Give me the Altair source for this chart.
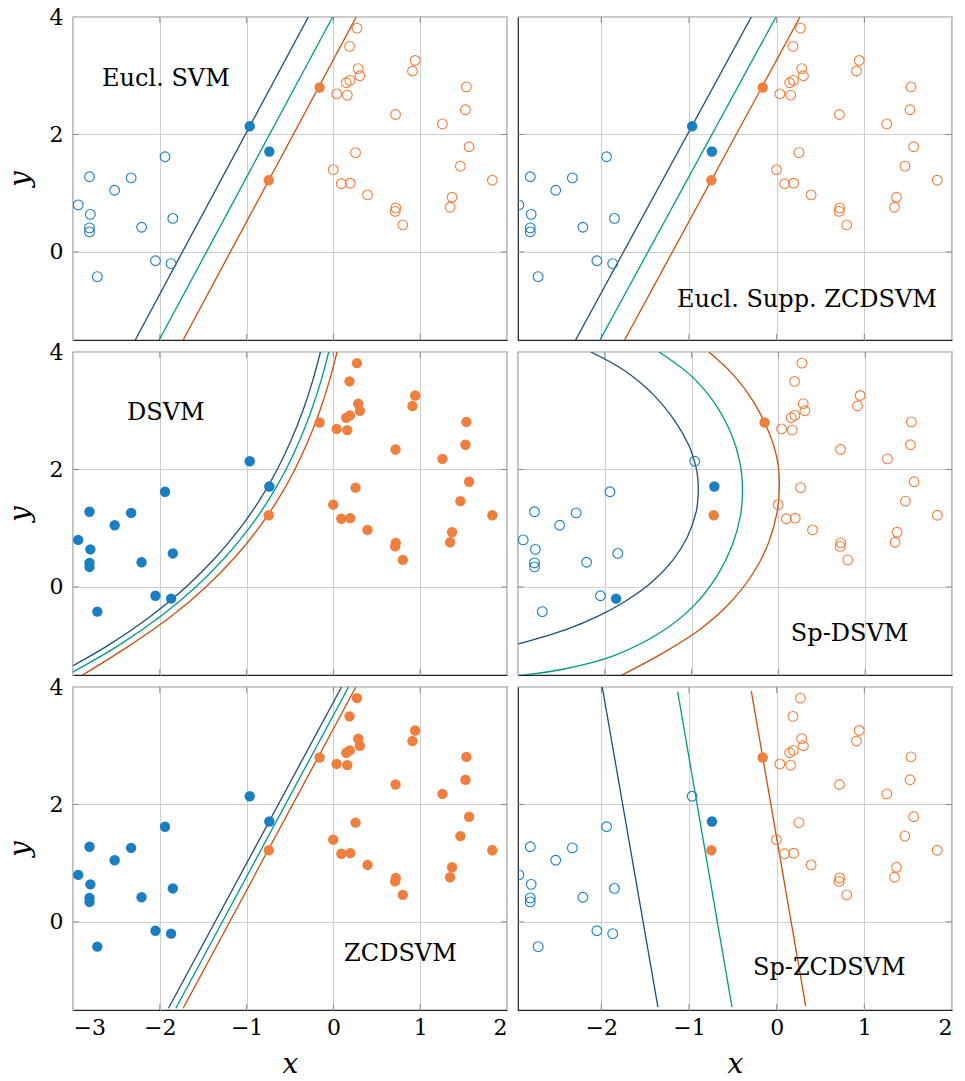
import altair as alt
import pandas as pd

# ---------------- data ----------------
blue_x = [-2.94, -2.81, -2.80, -2.81, -2.81, -2.72, -2.52, -2.33, -2.21, -1.94, -1.85, -2.05, -1.87, -0.964, -0.738]
blue_y = [0.80, 1.28, 0.64, 0.41, 0.34, -0.42, 1.05, 1.26, 0.42, 1.62, 0.57, -0.15, -0.20, 2.14, 1.71]

orange_x = [-0.159, -0.745, 0.271, 0.186, 0.286, 0.305, 0.148, 0.190, 0.037, 0.160,
            0.942, 0.911, 0.716, 1.532, 1.521, 1.256, 1.563, 1.463, 1.831, 1.367,
            1.344, 0.255, -0.002, 0.091, 0.194, 0.393, 0.719, 0.712, 0.800]
orange_y = [2.80, 1.22, 3.81, 3.50, 3.12, 3.00, 2.88, 2.92, 2.69, 2.67,
            3.26, 3.08, 2.34, 2.81, 2.42, 2.18, 1.79, 1.46, 1.22, 0.93,
            0.76, 1.69, 1.40, 1.16, 1.17, 0.97, 0.75, 0.69, 0.46]

panel_titles = ["Eucl. SVM", "Eucl. Supp. ZCDSVM", "DSVM", "Sp-DSVM", "ZCDSVM", "Sp-ZCDSVM"]
title_x = [-1.93, 0.346, -1.93, 0.82, 0.772, 0.60]
title_y = [2.82, -0.93, 2.84, -0.92, -0.67, -0.91]

x_domains = [[-3, 2], [-2.95, 2], [-3, 2], [-3, 2], [-3, 2], [-2.95, 2]]
y_domain = [-1.5, 4]
x_ticks = [-3, -2, -1, 0, 1, 2]
y_ticks = [0, 2, 4]

ALL_B = list(range(len(blue_x)))
ALL_O = list(range(len(orange_x)))
filled_blue = [[13, 14], [13, 14], ALL_B, [12, 14], ALL_B, [14]]
filled_orange = [[0, 1], [0, 1], ALL_O, [0, 1], ALL_O, [0, 1]]

# boundary (dark), centre (teal) and other boundary (orange) per panel
dsvm_y = [4.0, 3.5, 3.0, 2.5, 2.0, 1.5, 1.0, 0.5, 0.0, -0.5, -1.0]
lines = [
    {"dark": ([-2.283, -0.289], [-1.5, 4.0]),
     "teal": ([-2.007, -0.009], [-1.5, 4.0]),
     "orange": ([-1.731, 0.263], [-1.5, 4.0])},
    {"dark": ([-2.293, -0.289], [-1.5, 4.0]),
     "teal": ([-2.015, -0.008], [-1.5, 4.0]),
     "orange": ([-1.734, 0.266], [-1.5, 4.0])},
    {"dark": ([-0.149, -0.241, -0.352, -0.486, -0.647, -0.841, -1.075, -1.357, -1.697, -2.106, -2.600, -3.0],
              dsvm_y + [-1.341]),
     "teal": ([-0.054, -0.145, -0.255, -0.387, -0.546, -0.739, -0.970, -1.249, -1.585, -1.990, -2.478, -3.0],
              dsvm_y + [-1.448]),
     "orange": ([0.042, -0.048, -0.156, -0.287, -0.444, -0.634, -0.862, -1.137, -1.469, -1.868, -2.350, -2.90],
                dsvm_y + [-1.511])},
    {"dark": ([-2.161, -1.778, -1.433, -1.184, -1.031, -0.954, -0.930, -0.923, -0.929, -0.948, -1.050, -1.220, -1.460, -1.759, -2.065, -2.448, -2.996],
              [4.0, 3.688, 3.261, 2.807, 2.409, 2.068, 1.870, 1.670, 1.470, 1.273, 0.847, 0.449, 0.080, -0.239, -0.489, -0.727, -0.972]),
     "teal": ([-1.375, -1.011, -0.743, -0.552, -0.444, -0.414, -0.437, -0.533, -0.705, -0.973, -1.356, -1.893, -2.467, -2.996],
              [4.0, 3.602, 3.148, 2.636, 2.125, 1.670, 1.216, 0.705, 0.193, -0.318, -0.773, -1.170, -1.398, -1.511]),
     "orange": ([-0.801, -0.513, -0.284, -0.111, -0.015, 0.011, -0.015, -0.111, -0.284, -0.552, -0.897, -1.318, -1.816],
                [4.0, 3.602, 3.148, 2.636, 2.182, 1.727, 1.273, 0.761, 0.25, -0.261, -0.716, -1.114, -1.511])},
    {"dark": ([-1.900, 0.094], [-1.47, 4.0]),
     "teal": ([-1.815, 0.175], [-1.47, 4.0]),
     "orange": ([-1.731, 0.259], [-1.47, 4.0])},
    {"dark": ([-1.989, -1.354], [4.0, -1.45]),
     "teal": ([-1.129, -0.509], [3.92, -1.45]),
     "orange": ([-0.289, 0.331], [3.93, -1.43])},
]

# ---------------- styling ----------------
color_domain = ["dark", "teal", "orange", "bpt", "opt"]
color_range = ["#1f4f74", "#009988", "#c8500e", "#1a7fc1", "#ef7f3e"]
color_scale = alt.Scale(domain=color_domain, range=color_range)

PANEL_W = 434
PANEL_H = 323
SERIF = "DejaVu Serif"


def make_panel(k):
    col = k % 2
    row = k // 2
    xs = alt.Scale(domain=x_domains[k], nice=False, zero=False)
    ys = alt.Scale(domain=y_domain, nice=False, zero=False)
    x_axis = alt.Axis(values=x_ticks, grid=True, ticks=False, domain=False,
                      labels=(row == 2), title="x" if row == 2 else None,
                      labelPadding=7, titlePadding=12)
    y_axis = alt.Axis(values=y_ticks, grid=True, ticks=False, domain=False,
                      labels=(col == 0), title="y" if col == 0 else None,
                      labelPadding=10, titlePadding=15)
    X = alt.X("x:Q", scale=xs, axis=x_axis)
    Y = alt.Y("y:Q", scale=ys, axis=y_axis)
    C = alt.Color("c:N", scale=color_scale, legend=None)

    # small inner tick marks at the frame (clipped to the plot area)
    xt = [v for v in x_ticks if x_domains[k][0] < v < x_domains[k][1]]
    xtdf = pd.DataFrame({"x": xt * 2, "y": [y_domain[0]] * len(xt) + [y_domain[1]] * len(xt)})
    ytv = [v for v in y_ticks if y_domain[0] < v < y_domain[1]]
    ytdf = pd.DataFrame({"x": [x_domains[k][0]] * len(ytv) + [x_domains[k][1]] * len(ytv),
                         "y": ytv * 2})
    xtick_layer = alt.Chart(xtdf).mark_tick(orient="vertical", size=12, thickness=1,
                                            color="#666666", clip=True).encode(x=X, y=Y)
    ytick_layer = alt.Chart(ytdf).mark_tick(orient="horizontal", size=12, thickness=1,
                                            color="#666666", clip=True).encode(x=X, y=Y)

    # lines
    rows = []
    for name in ["dark", "teal", "orange"]:
        lx, ly = lines[k][name]
        for i, (a, b) in enumerate(zip(lx, ly)):
            rows.append({"x": a, "y": b, "c": name, "i": i})
    ldf = pd.DataFrame(rows)
    interp = "catmull-rom" if k in (2, 3) else "linear"
    line_layer = alt.Chart(ldf).mark_line(clip=True, strokeWidth=1.3, interpolate=interp).encode(
        x=X, y=Y, color=C, order=alt.Order("i:Q"))

    # points
    prow = []
    for i, (a, b) in enumerate(zip(blue_x, blue_y)):
        prow.append({"x": a, "y": b, "c": "bpt", "f": i in filled_blue[k]})
    for i, (a, b) in enumerate(zip(orange_x, orange_y)):
        prow.append({"x": a, "y": b, "c": "opt", "f": i in filled_orange[k]})
    pdf = pd.DataFrame(prow)
    hollow = alt.Chart(pdf[~pdf["f"]]).mark_point(
        shape="circle", filled=False, size=95, strokeWidth=1.1, opacity=1, clip=True
    ).encode(x=X, y=Y, color=C)
    filled = alt.Chart(pdf[pdf["f"]]).mark_circle(size=108, opacity=1, clip=True).encode(
        x=X, y=Y, color=C)

    tdf = pd.DataFrame({"x": [title_x[k]], "y": [title_y[k]], "t": [panel_titles[k]]})
    text = alt.Chart(tdf).mark_text(font=SERIF, fontSize=24, align="center",
                                    baseline="alphabetic", color="black").encode(
        x=X, y=Y, text="t:N")

    layers = [xtick_layer, ytick_layer, line_layer]
    if len(pdf[~pdf["f"]]) > 0:
        layers.append(hollow)
    layers += [filled, text]
    return alt.layer(*layers).properties(width=PANEL_W, height=PANEL_H)


panels = [make_panel(k) for k in range(6)]
chart = alt.concat(*panels, columns=2, spacing=alt.RowColnumber(row=12, column=11),
                   bounds="flush").configure_view(
    stroke="#222222", strokeWidth=1.2
).configure_axis(
    gridColor="#cfcfcf", gridWidth=1.1,
    labelFont=SERIF, labelFontSize=22, labelColor="black",
    titleFont=SERIF, titleFontSize=28, titleFontStyle="italic",
    titleFontWeight="normal", titleColor="black"
).properties(background="white")

chart.save("out.html", embed_options={"renderer": "svg", "actions": False})
